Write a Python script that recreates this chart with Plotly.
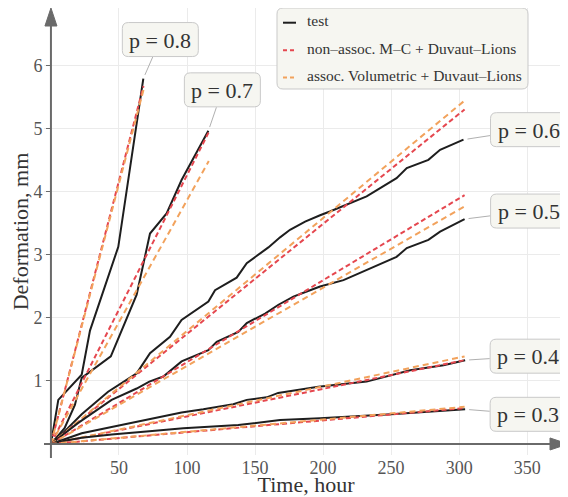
import plotly.graph_objects as go

# ---------------- data ----------------
# test curves: time (hour) and deformation (mm)
t_test_08 = [0, 5.4, 22.6, 28.7, 49.5, 67.9]
d_test_08 = [0, 0.70, 1.10, 1.80, 3.13, 5.80]

t_test_07 = [0, 10, 17.6, 22.6, 44, 63, 72.8, 85, 96, 115.7]
d_test_07 = [0, 0.25, 0.62, 1.05, 1.39, 2.37, 3.34, 3.66, 4.19, 4.97]

t_test_06 = [0, 10, 22.6, 42, 63, 72.8, 87.5, 96, 115.7, 120.6, 136.5, 143.9, 159.8,
             168.4, 175.7, 186.8, 197.8, 205, 232, 254, 261.5, 277.4, 286, 303.2]
d_test_06 = [0, 0.20, 0.47, 0.83, 1.12, 1.44, 1.70, 1.97, 2.26, 2.44, 2.64, 2.87, 3.12,
             3.28, 3.40, 3.53, 3.63, 3.69, 3.93, 4.22, 4.38, 4.51, 4.67, 4.83]

t_test_05 = [0, 19.8, 44.6, 63, 72.3, 82.6, 96, 104.6, 115.7, 121.8, 137.7, 143.9, 157.4,
             167.2, 178.2, 188, 197.8, 215, 232, 254, 261.5, 277.4, 286, 304]
d_test_05 = [0, 0.33, 0.70, 0.88, 0.99, 1.07, 1.31, 1.39, 1.49, 1.62, 1.78, 1.92, 2.07,
             2.21, 2.34, 2.42, 2.50, 2.60, 2.76, 2.97, 3.11, 3.24, 3.37, 3.57]

t_test_04 = [0, 10, 22.6, 44.6, 72.3, 96, 112, 134, 143.9, 158.6, 167, 181.8, 196.5,
             232, 250.5, 264, 288.5, 304.4]
d_test_04 = [0, 0.08, 0.17, 0.27, 0.39, 0.50, 0.55, 0.63, 0.70, 0.74, 0.81, 0.86, 0.91,
             0.99, 1.10, 1.17, 1.25, 1.33]

t_test_03 = [0, 10, 22.6, 44.6, 72.3, 97.3, 137.7, 168.4, 197.8, 250, 304.4]
d_test_03 = [0, 0.05, 0.10, 0.15, 0.20, 0.25, 0.30, 0.38, 0.41, 0.47, 0.55]

# model curves (straight lines from the origin to the end point)
t_model_08 = [0, 68]
t_model_07 = [0, 116]
t_model_long = [0, 304]
d_mc_08 = [0, 5.68]
d_mc_07 = [0, 4.95]
d_mc_06 = [0, 5.31]
d_mc_05 = [0, 3.95]
d_mc_04 = [0, 1.33]
d_mc_03 = [0, 0.57]
d_vol_08 = [0, 5.62]
d_vol_07 = [0, 4.49]
d_vol_06 = [0, 5.45]
d_vol_05 = [0, 3.77]
d_vol_04 = [0, 1.39]
d_vol_03 = [0, 0.59]

x_ticks = [50, 100, 150, 200, 250, 300, 350]
y_ticks = [1, 2, 3, 4, 5, 6]
legend_names = ["test",
                "non\u2013assoc. M\u2013C + Duvaut\u2013Lions",
                "assoc. Volumetric + Duvaut\u2013Lions"]

series = [
    ("0.8", t_test_08, d_test_08, t_model_08, d_mc_08, d_vol_08),
    ("0.7", t_test_07, d_test_07, t_model_07, d_mc_07, d_vol_07),
    ("0.6", t_test_06, d_test_06, t_model_long, d_mc_06, d_vol_06),
    ("0.5", t_test_05, d_test_05, t_model_long, d_mc_05, d_vol_05),
    ("0.4", t_test_04, d_test_04, t_model_long, d_mc_04, d_vol_04),
    ("0.3", t_test_03, d_test_03, t_model_long, d_mc_03, d_vol_03),
]

# ---------------- style ----------------
FONT = "Liberation Serif"
BLACK = "#1e1e1e"
RED = "#e5474f"
ORANGE = "#f2a25c"
AXIS = "#6a6a6a"
BOXBG = "#f6f6f1"
BOXLINE = "#c9c9c9"
RED_DASH = "5px,3px"
ORANGE_DASH = "6px,4px"

OFF = 8                      # page body margin of the html page
W, H = 568 - OFF, 497 - OFF
ML, MR, MT, MB = 44 - OFF, 0, 8 - OFF, 42
PW, PH = W - ML - MR, H - MT - MB
X_RANGE = [-5.1, 380]
Y_RANGE = [-0.175, 6.92]


def px_x(px):
    return (px - OFF - ML) / PW


def px_y(py):
    return (OFF + MT + PH - py) / PH


fig = go.Figure()
for p, tt, dt, tm, dmc, dvol in series:
    fig.add_trace(go.Scatter(x=tt, y=dt, mode="lines", name=legend_names[0],
                             showlegend=False, line=dict(color=BLACK, width=2)))
    fig.add_trace(go.Scatter(x=tm, y=dmc, mode="lines", name=legend_names[1],
                             showlegend=False,
                             line=dict(color=RED, width=2, dash=RED_DASH)))
    fig.add_trace(go.Scatter(x=tm, y=dvol, mode="lines", name=legend_names[2],
                             showlegend=False,
                             line=dict(color=ORANGE, width=2, dash=ORANGE_DASH)))


def rounded_path(cx, cy, w, h, r):
    """pixel path (y up) of a rounded rectangle centred at cx, cy"""
    x0, x1 = cx - w / 2, cx + w / 2
    y0, y1 = cy - h / 2, cy + h / 2
    return (f"M{x0 + r},{y0} L{x1 - r},{y0} Q{x1},{y0} {x1},{y0 + r} "
            f"L{x1},{y1 - r} Q{x1},{y1} {x1 - r},{y1} L{x0 + r},{y1} "
            f"Q{x0},{y1} {x0},{y1 - r} L{x0},{y0 + r} Q{x0},{y0} {x0 + r},{y0} Z")


shapes = []
annotations = []

# label offsets (pixels) from each test curve's end point
offsets = {"0.8": (17, -39), "0.7": (14, -41), "0.6": (65, -10),
           "0.5": (64, -8), "0.4": (63, -4), "0.3": (63, 5)}
BW, BH = 76, 34
for p, tt, dt, tm, dmc, dvol in series:
    ax, ay = offsets[p]
    shapes.append(dict(type="path", xref="x", yref="y", xsizemode="pixel",
                       ysizemode="pixel", xanchor=tt[-1], yanchor=dt[-1],
                       path=rounded_path(ax, -ay, BW, BH, 6),
                       fillcolor=BOXBG, line=dict(color=BOXLINE, width=1),
                       layer="above"))
    annotations.append(dict(x=tt[-1], y=dt[-1], xref="x", yref="y",
                            text=f"p = {p}", showarrow=True, arrowhead=0,
                            arrowwidth=1, arrowcolor="#b0b0b0", ax=ax, ay=ay,
                            standoff=4, width=BW, height=BH, borderpad=0,
                            font=dict(family=FONT, size=22, color="#333333")))

# axis lines with arrow heads
shapes.append(dict(type="line", xref="paper", yref="y", x0=0, x1=1 - 16 / PW,
                   y0=0, y1=0, line=dict(color=AXIS, width=2), layer="above"))
shapes.append(dict(type="path", xref="paper", yref="y", xsizemode="pixel",
                   ysizemode="pixel", xanchor=1, yanchor=0,
                   path="M0,0 L-18,6 L-18,-6 Z", fillcolor=AXIS,
                   line=dict(color=AXIS, width=1), layer="above"))
shapes.append(dict(type="line", xref="x", yref="paper", x0=0, x1=0,
                   y0=-3 / PH, y1=1 - 16 / PH, line=dict(color=AXIS, width=2),
                   layer="above"))
shapes.append(dict(type="path", xref="x", yref="paper", xsizemode="pixel",
                   ysizemode="pixel", xanchor=0, yanchor=1,
                   path="M0,0 L-6,-18 L6,-18 Z", fillcolor=AXIS,
                   line=dict(color=AXIS, width=1), layer="above"))

# legend (drawn by hand: rounded frame, short symbols, texts)
lx0, lx1 = px_x(277), px_x(528)
ly1, ly0 = px_y(8), px_y(89)
rx, ry = 6 / PW, 6 / PH
shapes.append(dict(type="path", xref="paper", yref="paper",
                   path=(f"M{lx0 + rx},{ly0} L{lx1 - rx},{ly0} Q{lx1},{ly0} {lx1},{ly0 + ry} "
                         f"L{lx1},{ly1 - ry} Q{lx1},{ly1} {lx1 - rx},{ly1} L{lx0 + rx},{ly1} "
                         f"Q{lx0},{ly1} {lx0},{ly1 - ry} L{lx0},{ly0 + ry} Q{lx0},{ly0} {lx0 + rx},{ly0} Z"),
                   fillcolor=BOXBG, line=dict(color=BOXLINE, width=1), layer="above"))
legend_rows = [20.7, 48.3, 75.5]
legend_styles = [(BLACK, "solid"), (RED, "4px,3px"), (ORANGE, "4px,3px")]
for name, row, (col, dash) in zip(legend_names, legend_rows, legend_styles):
    shapes.append(dict(type="line", xref="paper", yref="paper",
                       x0=px_x(283), x1=px_x(296), y0=px_y(row + 2), y1=px_y(row + 2),
                       line=dict(color=col, width=2, dash=dash), layer="above"))
    annotations.append(dict(x=px_x(305), y=px_y(row), xref="paper", yref="paper",
                            text=name, showarrow=False, xanchor="left",
                            yanchor="middle",
                            font=dict(family=FONT, size=15.5, color="#333333")))

fig.update_layout(
    width=W, height=H,
    margin=dict(l=ML, r=MR, t=MT, b=MB),
    paper_bgcolor="white", plot_bgcolor="white",
    font=dict(family=FONT, color="#333333"),
    shapes=shapes, annotations=annotations,
    showlegend=False,
    xaxis=dict(range=X_RANGE, tickvals=x_ticks, showgrid=True, gridcolor="#ebebeb",
               gridwidth=1, zeroline=False, showline=False, ticks="",
               automargin=False,
               tickfont=dict(family=FONT, size=18, color="#555555"),
               title=dict(text="Time, hour", standoff=2,
                          font=dict(family=FONT, size=22, color="#333333"))),
    yaxis=dict(range=Y_RANGE, tickvals=y_ticks, showgrid=True, gridcolor="#ebebeb",
               gridwidth=1, zeroline=False, showline=False, ticks="outside",
               ticklen=5, tickcolor=AXIS, anchor="free", position=(51 - OFF - ML) / PW,
               automargin=False,
               tickfont=dict(family=FONT, size=18, color="#555555"),
               title=dict(text="Deformation, mm", standoff=0,
                          font=dict(family=FONT, size=22, color="#333333"))),
)

fig.write_html("out.html")
